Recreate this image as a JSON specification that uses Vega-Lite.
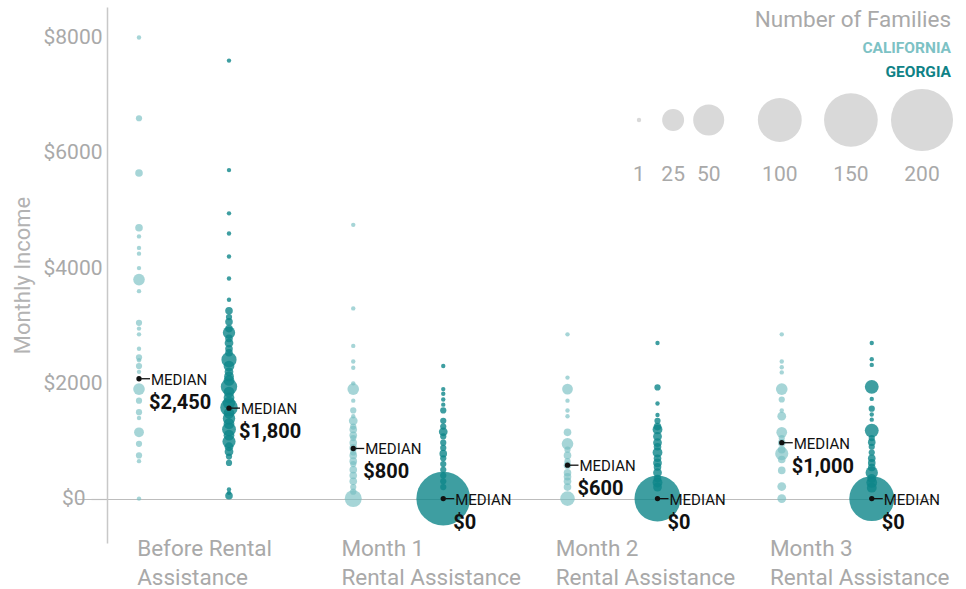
{
  "$schema": "https://vega.github.io/schema/vega-lite/v6.json",
  "width": 859,
  "height": 536,
  "autosize": "none",
  "padding": {"left": 107, "top": 7, "right": 0, "bottom": 46},
  "config": {"view": {"stroke": null}, "font": "Roboto"},
  "datasets": {
    "families": [
      {"period": "Before", "state": "California", "income": 8000, "families": 1},
      {"period": "Before", "state": "California", "income": 6600, "families": 2},
      {"period": "Before", "state": "California", "income": 5650, "families": 3},
      {"period": "Before", "state": "California", "income": 4700, "families": 3},
      {"period": "Before", "state": "California", "income": 4550, "families": 1},
      {"period": "Before", "state": "California", "income": 4350, "families": 1},
      {"period": "Before", "state": "California", "income": 4250, "families": 1},
      {"period": "Before", "state": "California", "income": 4000, "families": 1},
      {"period": "Before", "state": "California", "income": 3800, "families": 7},
      {"period": "Before", "state": "California", "income": 3600, "families": 1},
      {"period": "Before", "state": "California", "income": 3050, "families": 2},
      {"period": "Before", "state": "California", "income": 2950, "families": 1},
      {"period": "Before", "state": "California", "income": 2850, "families": 1},
      {"period": "Before", "state": "California", "income": 2600, "families": 1},
      {"period": "Before", "state": "California", "income": 2450, "families": 2},
      {"period": "Before", "state": "California", "income": 2400, "families": 1},
      {"period": "Before", "state": "California", "income": 2300, "families": 2},
      {"period": "Before", "state": "California", "income": 2200, "families": 1},
      {"period": "Before", "state": "California", "income": 1900, "families": 7},
      {"period": "Before", "state": "California", "income": 1700, "families": 2},
      {"period": "Before", "state": "California", "income": 1500, "families": 2},
      {"period": "Before", "state": "California", "income": 1400, "families": 1},
      {"period": "Before", "state": "California", "income": 1150, "families": 5},
      {"period": "Before", "state": "California", "income": 950, "families": 2},
      {"period": "Before", "state": "California", "income": 750, "families": 2},
      {"period": "Before", "state": "California", "income": 650, "families": 1},
      {"period": "Before", "state": "California", "income": 0, "families": 1},
      {"period": "Before", "state": "Georgia", "income": 7600, "families": 1},
      {"period": "Before", "state": "Georgia", "income": 5700, "families": 1},
      {"period": "Before", "state": "Georgia", "income": 4950, "families": 1},
      {"period": "Before", "state": "Georgia", "income": 4600, "families": 1},
      {"period": "Before", "state": "Georgia", "income": 4200, "families": 1},
      {"period": "Before", "state": "Georgia", "income": 3820, "families": 1},
      {"period": "Before", "state": "Georgia", "income": 3450, "families": 1},
      {"period": "Before", "state": "Georgia", "income": 3260, "families": 3},
      {"period": "Before", "state": "Georgia", "income": 3150, "families": 2},
      {"period": "Before", "state": "Georgia", "income": 3070, "families": 3},
      {"period": "Before", "state": "Georgia", "income": 2950, "families": 3},
      {"period": "Before", "state": "Georgia", "income": 2880, "families": 8},
      {"period": "Before", "state": "Georgia", "income": 2780, "families": 3},
      {"period": "Before", "state": "Georgia", "income": 2700, "families": 4},
      {"period": "Before", "state": "Georgia", "income": 2600, "families": 3},
      {"period": "Before", "state": "Georgia", "income": 2530, "families": 3},
      {"period": "Before", "state": "Georgia", "income": 2410, "families": 12},
      {"period": "Before", "state": "Georgia", "income": 2300, "families": 6},
      {"period": "Before", "state": "Georgia", "income": 2200, "families": 4},
      {"period": "Before", "state": "Georgia", "income": 2120, "families": 5},
      {"period": "Before", "state": "Georgia", "income": 2050, "families": 6},
      {"period": "Before", "state": "Georgia", "income": 1940, "families": 14},
      {"period": "Before", "state": "Georgia", "income": 1850, "families": 6},
      {"period": "Before", "state": "Georgia", "income": 1750, "families": 6},
      {"period": "Before", "state": "Georgia", "income": 1660, "families": 8},
      {"period": "Before", "state": "Georgia", "income": 1580, "families": 16},
      {"period": "Before", "state": "Georgia", "income": 1480, "families": 6},
      {"period": "Before", "state": "Georgia", "income": 1390, "families": 8},
      {"period": "Before", "state": "Georgia", "income": 1300, "families": 6},
      {"period": "Before", "state": "Georgia", "income": 1200, "families": 10},
      {"period": "Before", "state": "Georgia", "income": 1100, "families": 6},
      {"period": "Before", "state": "Georgia", "income": 990, "families": 9},
      {"period": "Before", "state": "Georgia", "income": 900, "families": 4},
      {"period": "Before", "state": "Georgia", "income": 815, "families": 4},
      {"period": "Before", "state": "Georgia", "income": 730, "families": 2},
      {"period": "Before", "state": "Georgia", "income": 620, "families": 2},
      {"period": "Before", "state": "Georgia", "income": 160, "families": 1},
      {"period": "Before", "state": "Georgia", "income": 100, "families": 1},
      {"period": "Before", "state": "Georgia", "income": 50, "families": 3},
      {"period": "Month 1", "state": "California", "income": 4750, "families": 1},
      {"period": "Month 1", "state": "California", "income": 3300, "families": 1},
      {"period": "Month 1", "state": "California", "income": 2650, "families": 1},
      {"period": "Month 1", "state": "California", "income": 2380, "families": 1},
      {"period": "Month 1", "state": "California", "income": 2270, "families": 1},
      {"period": "Month 1", "state": "California", "income": 2000, "families": 1},
      {"period": "Month 1", "state": "California", "income": 1900, "families": 7},
      {"period": "Month 1", "state": "California", "income": 1700, "families": 1},
      {"period": "Month 1", "state": "California", "income": 1530, "families": 2},
      {"period": "Month 1", "state": "California", "income": 1430, "families": 1},
      {"period": "Month 1", "state": "California", "income": 1350, "families": 4},
      {"period": "Month 1", "state": "California", "income": 1250, "families": 2},
      {"period": "Month 1", "state": "California", "income": 1200, "families": 3},
      {"period": "Month 1", "state": "California", "income": 1100, "families": 3},
      {"period": "Month 1", "state": "California", "income": 1050, "families": 2},
      {"period": "Month 1", "state": "California", "income": 970, "families": 3},
      {"period": "Month 1", "state": "California", "income": 880, "families": 3},
      {"period": "Month 1", "state": "California", "income": 800, "families": 2},
      {"period": "Month 1", "state": "California", "income": 750, "families": 3},
      {"period": "Month 1", "state": "California", "income": 650, "families": 3},
      {"period": "Month 1", "state": "California", "income": 600, "families": 2},
      {"period": "Month 1", "state": "California", "income": 500, "families": 3},
      {"period": "Month 1", "state": "California", "income": 400, "families": 3},
      {"period": "Month 1", "state": "California", "income": 300, "families": 3},
      {"period": "Month 1", "state": "California", "income": 200, "families": 2},
      {"period": "Month 1", "state": "California", "income": 120, "families": 2},
      {"period": "Month 1", "state": "California", "income": 0, "families": 15},
      {"period": "Month 1", "state": "Georgia", "income": 2300, "families": 1},
      {"period": "Month 1", "state": "Georgia", "income": 1900, "families": 1},
      {"period": "Month 1", "state": "Georgia", "income": 1820, "families": 1},
      {"period": "Month 1", "state": "Georgia", "income": 1720, "families": 1},
      {"period": "Month 1", "state": "Georgia", "income": 1630, "families": 1},
      {"period": "Month 1", "state": "Georgia", "income": 1530, "families": 2},
      {"period": "Month 1", "state": "Georgia", "income": 1350, "families": 2},
      {"period": "Month 1", "state": "Georgia", "income": 1250, "families": 2},
      {"period": "Month 1", "state": "Georgia", "income": 1160, "families": 4},
      {"period": "Month 1", "state": "Georgia", "income": 1080, "families": 2},
      {"period": "Month 1", "state": "Georgia", "income": 970, "families": 2},
      {"period": "Month 1", "state": "Georgia", "income": 880, "families": 2},
      {"period": "Month 1", "state": "Georgia", "income": 780, "families": 3},
      {"period": "Month 1", "state": "Georgia", "income": 700, "families": 2},
      {"period": "Month 1", "state": "Georgia", "income": 600, "families": 2},
      {"period": "Month 1", "state": "Georgia", "income": 500, "families": 2},
      {"period": "Month 1", "state": "Georgia", "income": 400, "families": 2},
      {"period": "Month 1", "state": "Georgia", "income": 300, "families": 2},
      {"period": "Month 1", "state": "Georgia", "income": 200, "families": 2},
      {"period": "Month 1", "state": "Georgia", "income": 0, "families": 150},
      {"period": "Month 2", "state": "California", "income": 2850, "families": 1},
      {"period": "Month 2", "state": "California", "income": 2100, "families": 1},
      {"period": "Month 2", "state": "California", "income": 1900, "families": 6},
      {"period": "Month 2", "state": "California", "income": 1700, "families": 1},
      {"period": "Month 2", "state": "California", "income": 1530, "families": 1},
      {"period": "Month 2", "state": "California", "income": 1430, "families": 1},
      {"period": "Month 2", "state": "California", "income": 1150, "families": 3},
      {"period": "Month 2", "state": "California", "income": 950, "families": 7},
      {"period": "Month 2", "state": "California", "income": 850, "families": 2},
      {"period": "Month 2", "state": "California", "income": 750, "families": 3},
      {"period": "Month 2", "state": "California", "income": 650, "families": 2},
      {"period": "Month 2", "state": "California", "income": 580, "families": 3},
      {"period": "Month 2", "state": "California", "income": 450, "families": 3},
      {"period": "Month 2", "state": "California", "income": 380, "families": 3},
      {"period": "Month 2", "state": "California", "income": 300, "families": 3},
      {"period": "Month 2", "state": "California", "income": 200, "families": 3},
      {"period": "Month 2", "state": "California", "income": 0, "families": 11},
      {"period": "Month 2", "state": "Georgia", "income": 2700, "families": 1},
      {"period": "Month 2", "state": "Georgia", "income": 1930, "families": 2},
      {"period": "Month 2", "state": "Georgia", "income": 1650, "families": 1},
      {"period": "Month 2", "state": "Georgia", "income": 1450, "families": 1},
      {"period": "Month 2", "state": "Georgia", "income": 1350, "families": 2},
      {"period": "Month 2", "state": "Georgia", "income": 1250, "families": 3},
      {"period": "Month 2", "state": "Georgia", "income": 1200, "families": 5},
      {"period": "Month 2", "state": "Georgia", "income": 1080, "families": 4},
      {"period": "Month 2", "state": "Georgia", "income": 970, "families": 4},
      {"period": "Month 2", "state": "Georgia", "income": 900, "families": 3},
      {"period": "Month 2", "state": "Georgia", "income": 800, "families": 5},
      {"period": "Month 2", "state": "Georgia", "income": 700, "families": 3},
      {"period": "Month 2", "state": "Georgia", "income": 620, "families": 4},
      {"period": "Month 2", "state": "Georgia", "income": 550, "families": 3},
      {"period": "Month 2", "state": "Georgia", "income": 450, "families": 4},
      {"period": "Month 2", "state": "Georgia", "income": 350, "families": 3},
      {"period": "Month 2", "state": "Georgia", "income": 280, "families": 5},
      {"period": "Month 2", "state": "Georgia", "income": 200, "families": 4},
      {"period": "Month 2", "state": "Georgia", "income": 0, "families": 110},
      {"period": "Month 3", "state": "California", "income": 2850, "families": 1},
      {"period": "Month 3", "state": "California", "income": 2380, "families": 1},
      {"period": "Month 3", "state": "California", "income": 2280, "families": 1},
      {"period": "Month 3", "state": "California", "income": 2190, "families": 1},
      {"period": "Month 3", "state": "California", "income": 1900, "families": 7},
      {"period": "Month 3", "state": "California", "income": 1720, "families": 2},
      {"period": "Month 3", "state": "California", "income": 1530, "families": 1},
      {"period": "Month 3", "state": "California", "income": 1430, "families": 4},
      {"period": "Month 3", "state": "California", "income": 1150, "families": 6},
      {"period": "Month 3", "state": "California", "income": 1050, "families": 2},
      {"period": "Month 3", "state": "California", "income": 970, "families": 3},
      {"period": "Month 3", "state": "California", "income": 850, "families": 3},
      {"period": "Month 3", "state": "California", "income": 780, "families": 9},
      {"period": "Month 3", "state": "California", "income": 680, "families": 3},
      {"period": "Month 3", "state": "California", "income": 490, "families": 3},
      {"period": "Month 3", "state": "California", "income": 210, "families": 4},
      {"period": "Month 3", "state": "California", "income": 0, "families": 4},
      {"period": "Month 3", "state": "Georgia", "income": 2700, "families": 1},
      {"period": "Month 3", "state": "Georgia", "income": 2420, "families": 1},
      {"period": "Month 3", "state": "Georgia", "income": 2320, "families": 1},
      {"period": "Month 3", "state": "Georgia", "income": 1940, "families": 10},
      {"period": "Month 3", "state": "Georgia", "income": 1730, "families": 1},
      {"period": "Month 3", "state": "Georgia", "income": 1560, "families": 2},
      {"period": "Month 3", "state": "Georgia", "income": 1460, "families": 1},
      {"period": "Month 3", "state": "Georgia", "income": 1370, "families": 1},
      {"period": "Month 3", "state": "Georgia", "income": 1180, "families": 10},
      {"period": "Month 3", "state": "Georgia", "income": 1050, "families": 2},
      {"period": "Month 3", "state": "Georgia", "income": 980, "families": 3},
      {"period": "Month 3", "state": "Georgia", "income": 900, "families": 2},
      {"period": "Month 3", "state": "Georgia", "income": 800, "families": 2},
      {"period": "Month 3", "state": "Georgia", "income": 700, "families": 3},
      {"period": "Month 3", "state": "Georgia", "income": 620, "families": 3},
      {"period": "Month 3", "state": "Georgia", "income": 540, "families": 3},
      {"period": "Month 3", "state": "Georgia", "income": 450, "families": 8},
      {"period": "Month 3", "state": "Georgia", "income": 350, "families": 4},
      {"period": "Month 3", "state": "Georgia", "income": 280, "families": 6},
      {"period": "Month 3", "state": "Georgia", "income": 190, "families": 5},
      {"period": "Month 3", "state": "Georgia", "income": 0, "families": 105}
    ],
    "medians": [
      {"period": "Before", "state": "California", "median": 2080, "label": "$2,450"},
      {"period": "Before", "state": "Georgia", "median": 1570, "label": "$1,800"},
      {"period": "Month 1", "state": "California", "median": 870, "label": "$800"},
      {"period": "Month 1", "state": "Georgia", "median": 0, "label": "$0"},
      {"period": "Month 2", "state": "California", "median": 580, "label": "$600"},
      {"period": "Month 2", "state": "Georgia", "median": 0, "label": "$0"},
      {"period": "Month 3", "state": "California", "median": 970, "label": "$1,000"},
      {"period": "Month 3", "state": "Georgia", "median": 0, "label": "$0"}
    ],
    "legend": [
      {"families": 1}, {"families": 25}, {"families": 50},
      {"families": 100}, {"families": 150}, {"families": 200}
    ],
    "legendTitle": [{"text": "Number of Families"}],
    "caLabel": [{"text": "CALIFORNIA"}],
    "gaLabel": [{"text": "GEORGIA"}]
  },
  "layer": [
    {
      "data": {"name": "families"},
      "mark": {"type": "circle"},
      "encoding": {
        "x": {
          "field": "period", "type": "nominal",
          "scale": {"domain": ["Before", "Month 1", "Month 2", "Month 3"], "range": [-30, 827], "paddingInner": 0, "paddingOuter": 0},
          "axis": {
            "title": null, "domain": false, "ticks": false, "grid": false, "labelAngle": 0,
            "labelExpr": "datum.value == 'Before' ? ['Before Rental', 'Assistance'] : [datum.value, 'Rental Assistance']",
            "labelAlign": "left", "labelBaseline": "top", "labelLineHeight": 29,
            "labelPadding": -6, "labelFontSize": 22.5, "labelColor": "#a9a9a9", "labelLimit": 400,
            "labelOffset": {"condition": {"test": "datum.value === 'Before'", "value": -47}, "value": -57}
          }
        },
        "xOffset": {
          "field": "state", "type": "nominal",
          "scale": {"type": "point", "domain": ["California", "Georgia"], "range": [62, 152], "padding": 0}
        },
        "y": {
          "field": "income", "type": "quantitative",
          "scale": {"domain": [-770, 8530], "nice": false, "zero": false},
          "axis": {
            "values": [0, 2000, 4000, 6000, 8000],
            "labelExpr": "'$' + datum.value",
            "title": "Monthly Income", "titleFontSize": 22, "titleFontWeight": "normal", "titleColor": "#b3b3b3",
            "titlePadding": 8,
            "labelFontSize": 21, "labelColor": "#a9a9a9",
            "domainColor": "#c8c8c8", "domainWidth": 1.5,
            "grid": true, "gridColor": "#bdbdbd", "gridWidth": 1.2,
            "gridOpacity": {"condition": {"test": "datum.value === 0", "value": 1}, "value": 0},
            "tickColor": "#bdbdbd", "tickWidth": 1.2, "tickSize": 16,
            "tickOpacity": {"condition": {"test": "datum.value === 0", "value": 1}, "value": 0},
            "labelPadding": {"condition": {"test": "datum.value === 0", "value": 6}, "value": -11}
          }
        },
        "size": {
          "field": "families", "type": "quantitative",
          "scale": {"type": "linear", "domain": [0, 200], "range": [0, 3848], "zero": true},
          "legend": null
        },
        "color": {
          "field": "state", "type": "nominal",
          "scale": {"domain": ["California", "Georgia"], "range": ["#77bfc2", "#0e8689"]},
          "legend": null
        },
        "opacity": {"condition": {"test": "datum.state === 'California'", "value": 0.65}, "value": 0.8},
        "order": {"field": "families", "type": "quantitative", "sort": "descending"}
      }
    },
    {
      "data": {"name": "medians"},
      "mark": {"type": "point", "filled": true, "size": 28, "color": "#111111", "opacity": 1},
      "encoding": {
        "x": {"field": "period", "type": "nominal", "scale": {"domain": ["Before", "Month 1", "Month 2", "Month 3"], "range": [-30, 827], "paddingInner": 0, "paddingOuter": 0}, "axis": null},
        "xOffset": {"field": "state", "type": "nominal", "scale": {"type": "point", "domain": ["California", "Georgia"], "range": [62, 152], "padding": 0}},
        "y": {"field": "median", "type": "quantitative"}
      }
    },
    {
      "data": {"name": "medians"},
      "mark": {"type": "point", "filled": false, "shape": "M0.2,0L1,0", "size": 484, "color": "#111111", "strokeWidth": 1.3, "opacity": 1},
      "encoding": {
        "x": {"field": "period", "type": "nominal", "scale": {"domain": ["Before", "Month 1", "Month 2", "Month 3"], "range": [-30, 827], "paddingInner": 0, "paddingOuter": 0}, "axis": null},
        "xOffset": {"field": "state", "type": "nominal", "scale": {"type": "point", "domain": ["California", "Georgia"], "range": [62, 152], "padding": 0}},
        "y": {"field": "median", "type": "quantitative"}
      }
    },
    {
      "data": {"name": "medians"},
      "mark": {"type": "text", "align": "left", "baseline": "middle", "dx": 12, "dy": 1, "fontSize": 15, "color": "#111111"},
      "encoding": {
        "x": {"field": "period", "type": "nominal", "scale": {"domain": ["Before", "Month 1", "Month 2", "Month 3"], "range": [-30, 827], "paddingInner": 0, "paddingOuter": 0}, "axis": null},
        "xOffset": {"field": "state", "type": "nominal", "scale": {"type": "point", "domain": ["California", "Georgia"], "range": [62, 152], "padding": 0}},
        "y": {"field": "median", "type": "quantitative"},
        "text": {"value": "MEDIAN"}
      }
    },
    {
      "data": {"name": "medians"},
      "mark": {"type": "text", "align": "left", "baseline": "middle", "dx": 10, "dy": 24, "fontSize": 20, "fontWeight": "bold", "color": "#111111"},
      "encoding": {
        "x": {"field": "period", "type": "nominal", "scale": {"domain": ["Before", "Month 1", "Month 2", "Month 3"], "range": [-30, 827], "paddingInner": 0, "paddingOuter": 0}, "axis": null},
        "xOffset": {"field": "state", "type": "nominal", "scale": {"type": "point", "domain": ["California", "Georgia"], "range": [62, 152], "padding": 0}},
        "y": {"field": "median", "type": "quantitative"},
        "text": {"field": "label"}
      }
    },
    {
      "data": {"name": "legend"},
      "mark": {"type": "circle", "color": "#d9d9d9", "opacity": 1},
      "encoding": {
        "x": {"field": "families", "type": "quantitative", "scale": {"domain": [1, 200], "range": [532, 815], "zero": false, "nice": false}, "axis": null},
        "y": {"value": 113},
        "size": {"field": "families", "type": "quantitative", "legend": null}
      }
    },
    {
      "data": {"name": "legend"},
      "mark": {"type": "text", "align": "center", "baseline": "middle", "fontSize": 21, "color": "#a9a9a9"},
      "encoding": {
        "x": {"field": "families", "type": "quantitative", "scale": {"domain": [1, 200], "range": [532, 815], "zero": false, "nice": false}, "axis": null},
        "y": {"value": 168},
        "text": {"field": "families", "type": "quantitative"}
      }
    },
    {
      "data": {"name": "legendTitle"},
      "mark": {"type": "text", "align": "right", "baseline": "middle", "fontSize": 22.5, "color": "#a9a9a9"},
      "encoding": {"x": {"value": 844}, "y": {"value": 13}, "text": {"field": "text"}}
    },
    {
      "data": {"name": "caLabel"},
      "mark": {"type": "text", "align": "right", "baseline": "middle", "fontSize": 15.5, "fontWeight": "bold", "color": "#7dc2c5"},
      "encoding": {"x": {"value": 844}, "y": {"value": 41}, "text": {"field": "text"}}
    },
    {
      "data": {"name": "gaLabel"},
      "mark": {"type": "text", "align": "right", "baseline": "middle", "fontSize": 15.5, "fontWeight": "bold", "color": "#0f8286"},
      "encoding": {"x": {"value": 844}, "y": {"value": 65}, "text": {"field": "text"}}
    }
  ],
  "resolve": {"scale": {"x": "independent"}}
}
